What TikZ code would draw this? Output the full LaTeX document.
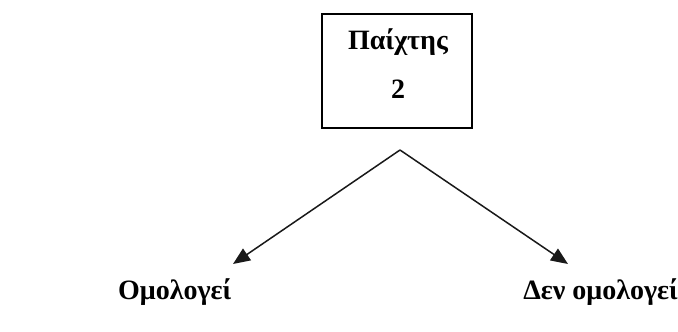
\documentclass[tikz,border=0pt]{standalone}
\usepackage{fontspec}
\setmainfont{Liberation Serif}
\usetikzlibrary{arrows.meta}
\tikzset{
  lbl/.style={font=\fontsize{28}{32}\selectfont\bfseries, inner sep=0pt},
  boxstyle/.style={draw, line width=2.5pt, minimum width=150pt, minimum height=114pt, inner sep=0pt},
  arr/.style={line width=1.5pt, color=black!90, -{Triangle[length=17pt,width=14pt]}}
}
\begin{document}
\begin{tikzpicture}[x=1pt,y=-1pt]
\useasboundingbox (0,0) rectangle (678,332);
\node[boxstyle] (box) at (397,71) {};
\node[lbl] (t1) at (398,42) {Παίχτης};
\node[lbl] (t2) at (398,89) {2};
\coordinate (apex) at (400,150);
\coordinate (lt) at (233,264);
\coordinate (rt) at (568,264);
\draw[arr] (apex) -- (lt);
\draw[arr] (apex) -- (rt);
\node[lbl, anchor=west] (l) at (118,292) {Ομολογεί};
\node[lbl, anchor=east] (r) at (678,292) {Δεν ομολογεί};
\end{tikzpicture}
\end{document}
